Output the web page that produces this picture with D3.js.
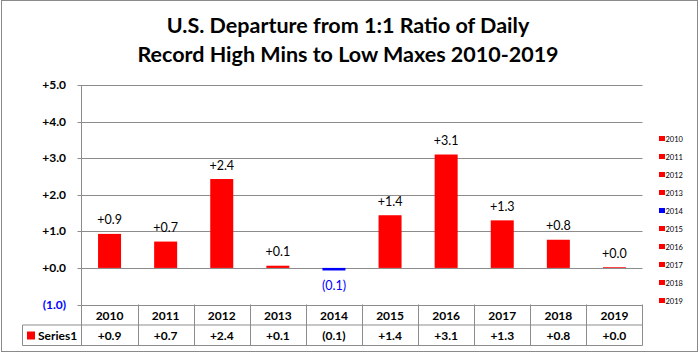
<!DOCTYPE html>
<html>
<head>
<meta charset="utf-8">
<script src="https://cdn.jsdelivr.net/npm/d3@7"></script>
<style>
  body { margin: 0; background: #fff; }
  svg { display: block; font-family: Lato, 'Open Sans', sans-serif; }
</style>
</head>
<body>
<div id="chart"></div>
<script>
// data
const years = ['2010', '2011', '2012', '2013', '2014', '2015', '2016', '2017', '2018', '2019']
const values = [0.93, 0.72, 2.43, 0.06, -0.07, 1.44, 3.1, 1.3, 0.77, 0.02]
const yTicks = [-1, 0, 1, 2, 3, 4, 5]
const seriesName = 'Series1'
const titleLines = ['U.S. Departure from 1:1 Ratio of Daily', 'Record High Mins to Low Maxes 2010-2019']

const width = 699
const height = 353
const plot = { left: 81.5, right: 642.5, top: 85, bottom: 304.5 }
const rowH = 20.5

const RED = '#ff0000'
const BLUE = '#0000ff'
const GRID = '#8c8c8c'

const fmt = d => {
  const s = Math.abs(d).toFixed(1)
  return d < 0 ? `(${s})` : `+${s}`
}
const colorOf = d => d < 0 ? BLUE : RED

const svg = d3.select('#chart').append('svg')
  .attr('width', width)
  .attr('height', height)

// outer frame
svg.append('rect')
  .attr('x', 1.5).attr('y', 0.5)
  .attr('width', width - 3).attr('height', height - 2)
  .attr('fill', '#fff')
  .attr('stroke', '#8a8a8a')

// title
svg.append('g')
  .selectAll('text')
  .data(titleLines)
  .join('text')
  .attr('x', 348)
  .attr('y', (d, i) => 33 + i * 29)
  .attr('text-anchor', 'middle')
  .attr('font-size', 21.5)
  .attr('font-weight', 700)
  .attr('fill', '#000')
  .text(d => d)

const x = d3.scaleBand()
  .domain(years)
  .range([plot.left, plot.right])
  .paddingInner(0.59)
  .paddingOuter(0.295)
const step = x.step()
const cellX = d => x(d) - x.paddingInner() * step / 2

const y = d3.scaleLinear()
  .domain([-1, 5])
  .range([plot.bottom, plot.top])

// gridlines
svg.append('g')
  .selectAll('line')
  .data(yTicks)
  .join('line')
  .attr('x1', plot.left - 4)
  .attr('x2', plot.right)
  .attr('y1', d => Math.round(y(d)) + 0.5)
  .attr('y2', d => Math.round(y(d)) + 0.5)
  .attr('stroke', GRID)

// y tick labels
svg.append('g')
  .selectAll('text')
  .data(yTicks)
  .join('text')
  .attr('x', 66)
  .attr('y', d => y(d) + 4)
  .attr('text-anchor', 'end')
  .attr('font-size', 12)
  .attr('font-weight', 700)
  .attr('fill', d => d < 0 ? BLUE : '#000')
  .text(fmt)

// bars
svg.append('g')
  .selectAll('rect')
  .data(values)
  .join('rect')
  .attr('x', (d, i) => x(years[i]))
  .attr('width', x.bandwidth())
  .attr('y', d => y(Math.max(0, d)))
  .attr('height', d => Math.abs(y(d) - y(0)))
  .attr('fill', colorOf)

// value labels
svg.append('g')
  .selectAll('text')
  .data(values)
  .join('text')
  .attr('x', (d, i) => x(years[i]) + x.bandwidth() / 2)
  .attr('y', d => d < 0 ? y(d) + 19.5 : y(d) - 9.5)
  .attr('text-anchor', 'middle')
  .attr('font-size', 12.5)
  .attr('fill', d => d < 0 ? BLUE : '#000')
  .text(fmt)

// data table
const table = svg.append('g')
const row1 = plot.bottom
const row2 = row1 + rowH
const row3 = row2 + rowH
const tableLeft = 22.5

table.append('line')
  .attr('x1', tableLeft).attr('x2', plot.right)
  .attr('y1', row2).attr('y2', row2)
  .attr('stroke', GRID)
table.append('line')
  .attr('x1', tableLeft).attr('x2', plot.right)
  .attr('y1', row3).attr('y2', row3)
  .attr('stroke', GRID)
table.append('line')
  .attr('x1', tableLeft).attr('x2', tableLeft)
  .attr('y1', row2).attr('y2', row3)
  .attr('stroke', GRID)

// vertical cell borders (axis line included)
table.selectAll('.sep')
  .data(years.concat(['end']))
  .join('line')
  .attr('class', 'sep')
  .attr('x1', (d, i) => i < years.length ? Math.round(cellX(d)) + 0.5 : plot.right)
  .attr('x2', (d, i) => i < years.length ? Math.round(cellX(d)) + 0.5 : plot.right)
  .attr('y1', (d, i) => i === 0 ? plot.top : row1)
  .attr('y2', row3)
  .attr('stroke', GRID)

table.selectAll('.yr')
  .data(years)
  .join('text')
  .attr('class', 'yr')
  .attr('x', d => cellX(d) + step / 2)
  .attr('y', row1 + 15)
  .attr('text-anchor', 'middle')
  .attr('font-size', 12)
  .attr('font-weight', 700)
  .text(d => d)

table.selectAll('.val')
  .data(values)
  .join('text')
  .attr('class', 'val')
  .attr('x', (d, i) => cellX(years[i]) + step / 2)
  .attr('y', row2 + 15)
  .attr('text-anchor', 'middle')
  .attr('font-size', 12)
  .attr('font-weight', 700)
  .text(fmt)

table.append('rect')
  .attr('x', 27).attr('y', row2 + 6.5)
  .attr('width', 8).attr('height', 8)
  .attr('fill', RED)
table.append('text')
  .attr('x', 38)
  .attr('y', row2 + 15)
  .attr('font-size', 12)
  .attr('font-weight', 700)
  .text(seriesName)

// right legend
const legend = svg.append('g')
  .selectAll('g')
  .data(years)
  .join('g')
  .attr('transform', (d, i) => `translate(659, ${139 + i * 18})`)
legend.append('rect')
  .attr('x', 0).attr('y', -3)
  .attr('width', 6).attr('height', 5)
  .attr('fill', (d, i) => colorOf(values[i]))
legend.append('text')
  .attr('x', 6.5)
  .attr('y', 2.5)
  .attr('font-size', 7.5)
  .text(d => d)
</script>
</body>
</html>
